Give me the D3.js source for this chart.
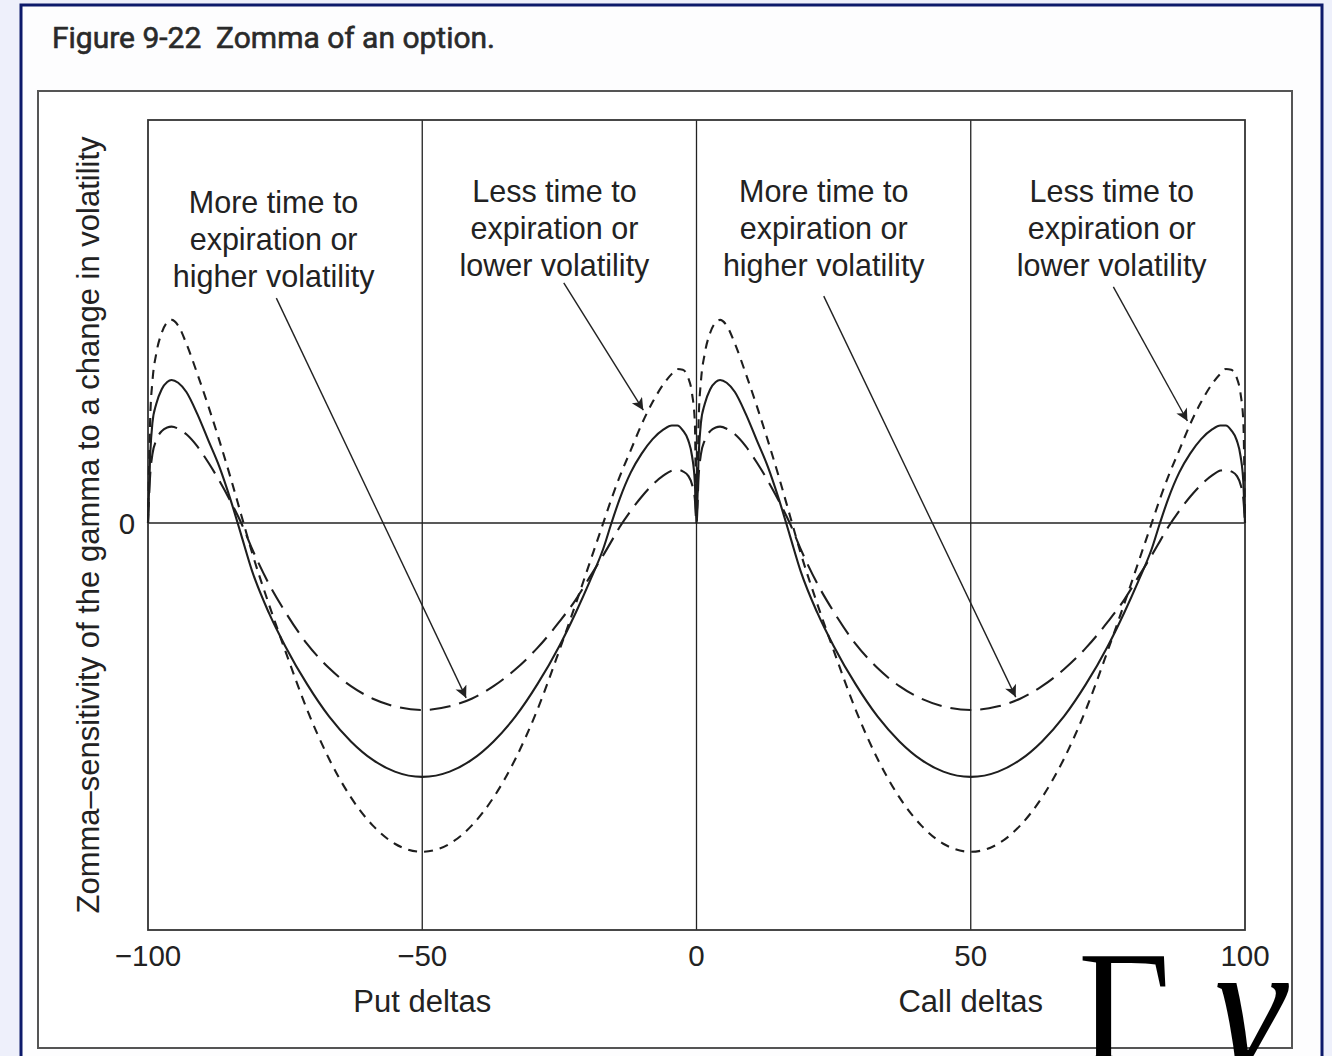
<!DOCTYPE html>
<html>
<head>
<meta charset="utf-8">
<script src="https://cdn.jsdelivr.net/npm/d3@7"></script>
<style>
  body { margin: 0; background: #eef0fb; }
  svg { display: block; }
  text { font-family: "Liberation Sans", Arial, sans-serif; fill: #222; }
</style>
</head>
<body>
<script>
// deltas (put side -100..0, call side 0..100)
var deltas = [-100, -99.6, -99.2, -98.5, -97.5, -96.5, -95.7, -94.5, -93, -91, -89, -87, -85, -83, -81, -78, -75, -71, -67, -63, -59, -55, -50,
  -45, -41, -37, -33, -29, -25, -22, -19.5, -17, -15.5, -14, -12, -10, -8, -6, -4.5, -3.5, -2.5, -1.5, -0.8, -0.3, 0,
  0.4, 0.8, 1.5, 2.5, 3.5, 4.3, 5.5, 7, 9, 11, 13, 15, 17, 19, 22, 25, 29, 33, 37, 41, 45, 50,
  55, 59, 63, 67, 71, 75, 78, 80.5, 83, 84.5, 86, 88, 90, 92, 94, 95.5, 96.5, 97.5, 98.5, 99.2, 99.7, 100];

// solid line
var zommaBase = [0, 0.17, 0.248, 0.295, 0.332, 0.35, 0.355, 0.348, 0.325, 0.27, 0.205, 0.14, 0.06, -0.03, -0.12, -0.222, -0.305, -0.4, -0.48, -0.542, -0.588, -0.617, -0.63,
  -0.617, -0.588, -0.542, -0.48, -0.4, -0.305, -0.222, -0.146, -0.064, 0, 0.06, 0.125, 0.172, 0.208, 0.232, 0.242, 0.242, 0.23, 0.205, 0.165, 0.1, 0,
  0.17, 0.248, 0.295, 0.332, 0.35, 0.355, 0.348, 0.325, 0.27, 0.205, 0.14, 0.06, -0.03, -0.12, -0.222, -0.305, -0.4, -0.48, -0.542, -0.588, -0.617, -0.63,
  -0.617, -0.588, -0.542, -0.48, -0.4, -0.305, -0.222, -0.146, -0.064, 0, 0.06, 0.125, 0.172, 0.208, 0.232, 0.242, 0.242, 0.23, 0.205, 0.165, 0.1, 0];

// long dashes: more time / higher volatility
var zommaMoreTime = [0, 0.12, 0.17, 0.205, 0.228, 0.237, 0.239, 0.234, 0.22, 0.19, 0.15, 0.105, 0.055, 0, -0.065, -0.15, -0.22, -0.3, -0.36, -0.405, -0.436, -0.455, -0.464,
  -0.455, -0.436, -0.405, -0.363, -0.31, -0.245, -0.19, -0.135, -0.08, -0.045, -0.01, 0.03, 0.065, 0.095, 0.118, 0.13, 0.132, 0.128, 0.117, 0.095, 0.06, 0,
  0.12, 0.17, 0.205, 0.228, 0.237, 0.239, 0.234, 0.22, 0.19, 0.15, 0.105, 0.055, 0, -0.065, -0.15, -0.22, -0.3, -0.36, -0.405, -0.436, -0.455, -0.464,
  -0.455, -0.436, -0.405, -0.363, -0.31, -0.245, -0.19, -0.135, -0.08, -0.045, -0.01, 0.03, 0.065, 0.095, 0.118, 0.13, 0.132, 0.128, 0.117, 0.095, 0.06, 0];

// short dashes: less time / lower volatility
var zommaLessTime = [0, 0.26, 0.35, 0.42, 0.472, 0.498, 0.504, 0.49, 0.445, 0.37, 0.29, 0.205, 0.115, 0.02, -0.075, -0.2, -0.316, -0.463, -0.585, -0.681, -0.751, -0.796, -0.816,
  -0.796, -0.751, -0.681, -0.585, -0.463, -0.316, -0.2, -0.1, 0, 0.06, 0.115, 0.18, 0.245, 0.3, 0.345, 0.37, 0.382, 0.38, 0.36, 0.32, 0.25, 0,
  0.26, 0.35, 0.42, 0.472, 0.498, 0.504, 0.49, 0.445, 0.37, 0.29, 0.205, 0.115, 0.02, -0.075, -0.2, -0.316, -0.463, -0.585, -0.681, -0.751, -0.796, -0.816,
  -0.796, -0.751, -0.681, -0.585, -0.463, -0.316, -0.2, -0.1, 0, 0.06, 0.115, 0.18, 0.245, 0.3, 0.345, 0.37, 0.382, 0.38, 0.36, 0.32, 0.25, 0];

var xTicks = [-100, -50, 0, 50, 100];
var xGrid = [-50, 0, 50];
var yTicks = [0];
var sideLabels = [{ name: "Put deltas", at: -50 }, { name: "Call deltas", at: 50 }];

// annotation text + arrows (data units)
var notes = [
  { lines: ["More time to", "expiration or", "higher volatility"], x: -77.1, y: 0.769, from: [-76.6, 0.558], to: [-42, -0.434] },
  { lines: ["Less time to", "expiration or", "lower volatility"], x: -25.9, y: 0.797, from: [-24.2, 0.596], to: [-9.7, 0.28] },
  { lines: ["More time to", "expiration or", "higher volatility"], x: 23.2, y: 0.797, from: [23.2, 0.563], to: [58.2, -0.432] },
  { lines: ["Less time to", "expiration or", "lower volatility"], x: 75.7, y: 0.797, from: [76.0, 0.586], to: [89.5, 0.253] }
];

var W = 1332, H = 1056;
var svg = d3.select("body").append("svg").attr("width", W).attr("height", H);

// page panel
svg.append("rect").attr("x", 21).attr("y", 5).attr("width", 1301).attr("height", 1100)
  .attr("fill", "#fdfdfe").attr("stroke", "#0d1a6b").attr("stroke-width", 3);

svg.append("text").attr("x", 52).attr("y", 48)
  .style("font-family", "Roboto, 'Liberation Sans', sans-serif")
  .style("font-size", "30px").style("fill", "#2a2a2a")
  .attr("stroke", "#2a2a2a").attr("stroke-width", 0.6)
  .attr("textLength", 443).attr("lengthAdjust", "spacingAndGlyphs")
  .text("Figure 9-22\u00a0\u00a0Zomma of an option.");

// outer figure frame
svg.append("rect").attr("x", 38).attr("y", 91).attr("width", 1254).attr("height", 957)
  .attr("fill", "#fff").attr("stroke", "#555").attr("stroke-width", 2);

var x = d3.scaleLinear().domain([-100, 100]).range([148, 1245]);
var y = d3.scaleLinear().domain([-1.01, 1]).range([930, 120]);

var plot = svg.append("g");

plot.selectAll(".grid").data(xGrid).enter().append("line")
  .attr("x1", d => x(d)).attr("x2", d => x(d))
  .attr("y1", y.range()[0]).attr("y2", y.range()[1])
  .attr("stroke", "#222").attr("stroke-width", 1.3);

plot.selectAll(".zero").data(yTicks).enter().append("line")
  .attr("x1", x.range()[0]).attr("x2", x.range()[1])
  .attr("y1", d => y(d)).attr("y2", d => y(d))
  .attr("stroke", "#222").attr("stroke-width", 1.3);

plot.append("rect").attr("x", x(-100)).attr("y", y(1))
  .attr("width", x(100) - x(-100)).attr("height", y(-1.01) - y(1))
  .attr("fill", "none").attr("stroke", "#333").attr("stroke-width", 1.8);

var line = d3.line().curve(d3.curveMonotoneX);

var series = [
  { values: zommaLessTime, dash: "9,7" },
  { values: zommaMoreTime, dash: "21,9" },
  { values: zommaBase, dash: null }
];

plot.selectAll(".curve").data(series).enter().append("path")
  .attr("d", s => line(deltas.map((d, i) => [x(d), y(s.values[i])])))
  .attr("fill", "none").attr("stroke", "#1e1e1e").attr("stroke-width", 2.1)
  .attr("stroke-dasharray", s => s.dash);

// tick labels
svg.selectAll(".xtick").data(xTicks).enter().append("text")
  .attr("x", d => x(d)).attr("y", 966).attr("text-anchor", "middle")
  .style("font-size", "29.5px")
  .text(d => d < 0 ? "\u2212" + Math.abs(d) : d);

svg.selectAll(".ytick").data(yTicks).enter().append("text")
  .attr("x", 127).attr("y", d => y(d) + 11).attr("text-anchor", "middle")
  .style("font-size", "29.5px").text(d => d);

svg.selectAll(".side").data(sideLabels).enter().append("text")
  .attr("x", d => x(d.at)).attr("y", 1012).attr("text-anchor", "middle")
  .style("font-size", "31px").text(d => d.name);

svg.append("text")
  .attr("transform", "translate(99," + 525 + ") rotate(-90)")
  .attr("text-anchor", "middle").style("font-size", "31px")
  .text("Zomma\u2013sensitivity of the gamma to a change in volatility");

// annotations
var defs = svg.append("defs");
defs.append("marker").attr("id", "head").attr("viewBox", "0 0 10 10")
  .attr("refX", 10).attr("refY", 5).attr("markerWidth", 19).attr("markerHeight", 12)
  .attr("markerUnits", "userSpaceOnUse").attr("orient", "auto")
  .append("path").attr("d", "M0,0 L10,5 L0,10 L2.5,5 Z").attr("fill", "#222");

var note = svg.selectAll(".note").data(notes).enter().append("g");

note.append("text").attr("text-anchor", "middle").style("font-size", "30.5px")
  .selectAll("tspan").data(d => d.lines.map(l => ({ t: l, x: d.x, y: d.y })))
  .enter().append("tspan")
  .attr("x", d => x(d.x)).attr("y", (d, i) => y(d.y) + i * 37)
  .text(d => d.t);

note.append("line")
  .attr("x1", d => x(d.from[0])).attr("y1", d => y(d.from[1]))
  .attr("x2", d => x(d.to[0])).attr("y2", d => y(d.to[1]))
  .attr("stroke", "#222").attr("stroke-width", 1.4)
  .attr("marker-end", "url(#head)");

// stray glyphs overlapping the corner
svg.append("text").attr("x", 1078).attr("y", 1062)
  .style("font-family", "'Liberation Serif', serif").style("font-size", "160px").style("fill", "#000")
  .text("\u0393");
svg.append("text").attr("x", 1214).attr("y", 1066)
  .style("font-family", "'Liberation Serif', serif").style("font-size", "180px")
  .style("font-style", "italic").style("fill", "#000")
  .text("\u03b3");
</script>
</body>
</html>
